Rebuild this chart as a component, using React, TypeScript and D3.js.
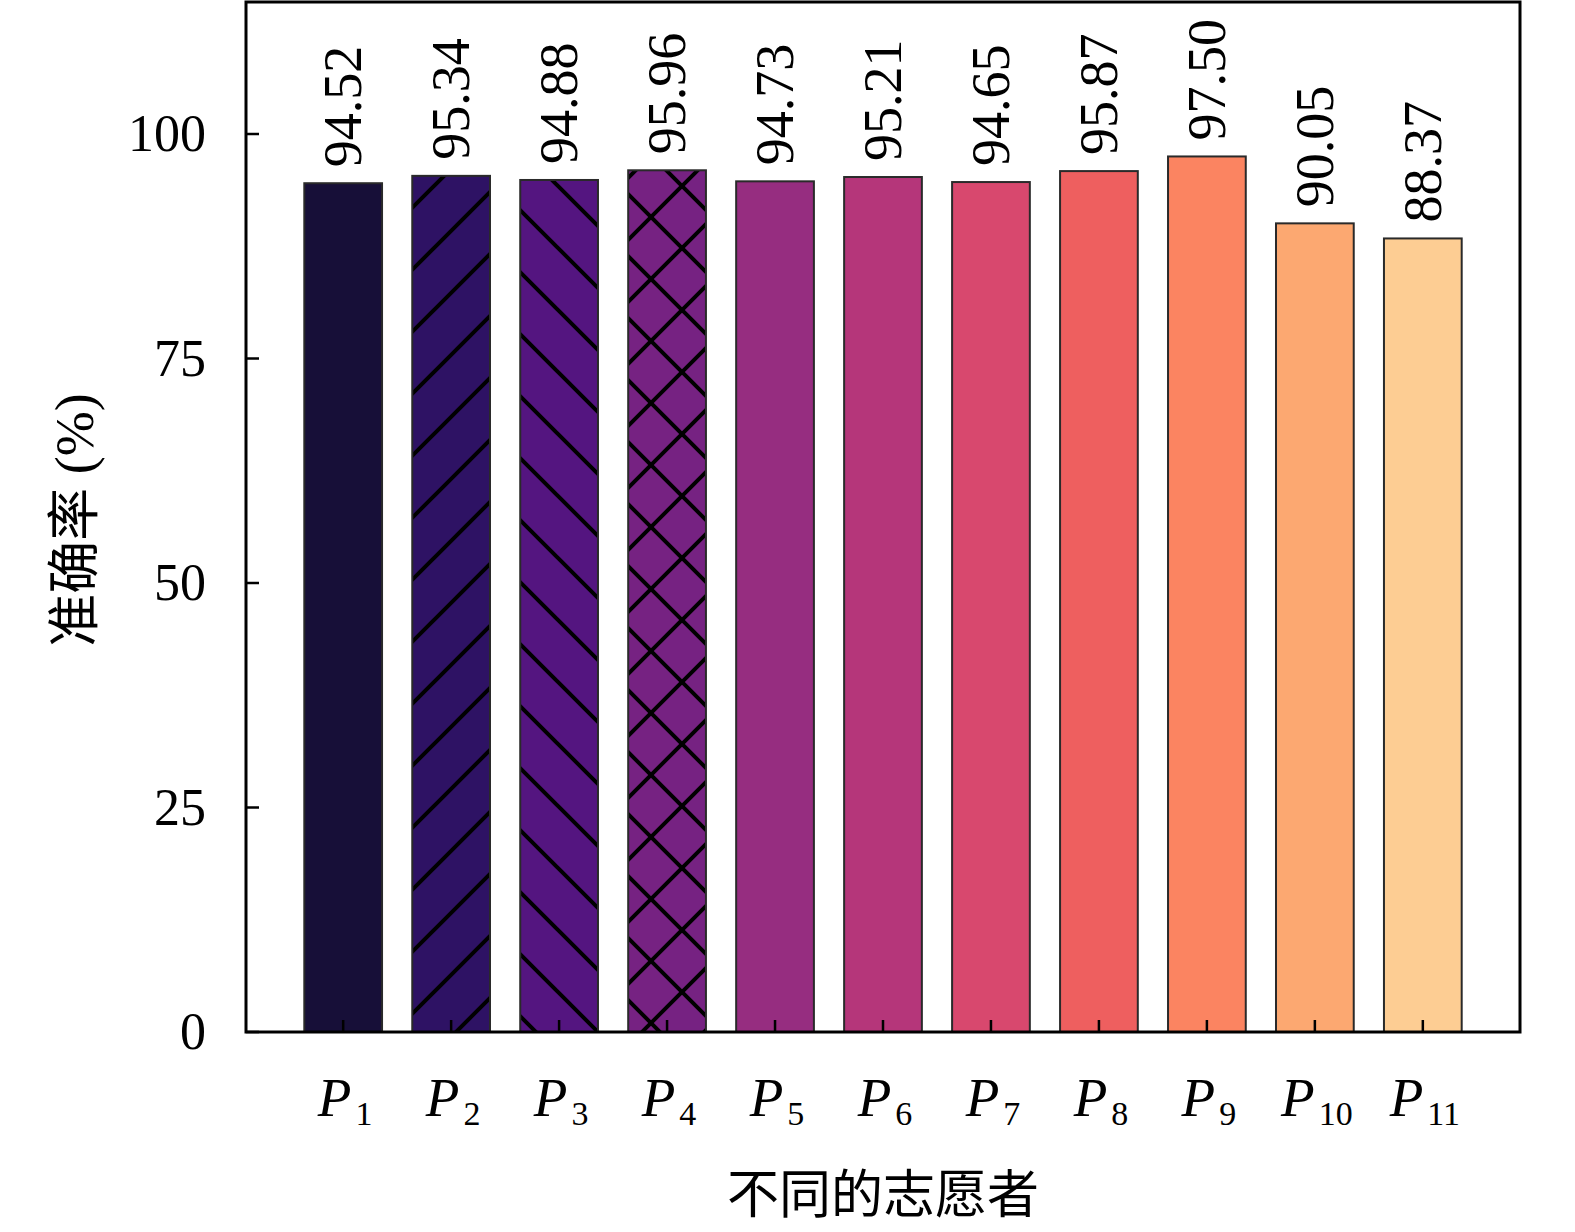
import { useEffect, useRef } from 'react';
import * as d3 from 'd3';

// data
const volunteers = ['1', '2', '3', '4', '5', '6', '7', '8', '9', '10', '11'];
const accuracy = [94.52, 95.34, 94.88, 95.96, 94.73, 95.21, 94.65, 95.87, 97.5, 90.05, 88.37];
const yTicks = [0, 25, 50, 75, 100];

// styles
const barColors = [
  '#170f38', '#2e1264', '#541580', '#762282', '#962d80', '#b5367a',
  '#d8486e', '#ee5f5f', '#fb8461', '#fca871', '#fdcd93',
];
const hatches: (string | null)[] = [null, 'fwd', 'back', 'cross', null, null, null, null, null, null, null];

const W = 1575;
const H = 1232;
const serif = '"Liberation Serif", "Times New Roman", serif';
const cjk = '"Noto Sans CJK SC", sans-serif';

export default function App() {
  const svgRef = useRef<SVGSVGElement>(null);

  useEffect(() => {
    if (!svgRef.current) return;
    const svg = d3.select(svgRef.current);
    svg.selectAll('*').remove();

    const left = 246, right = 1520, top = 2, bottom = 1032;

    const x = d3.scaleLinear().domain([-0.9, 10.9]).range([left, right]);
    const y = d3.scaleLinear().domain([0, 114.7]).range([bottom, top]);
    const barW = x(0.72) - x(0);

    // hatch patterns
    const defs = svg.append('defs');
    const tile = 62;
    const mkPattern = (id: string, paths: string[]) => {
      const p = defs.append('pattern')
        .attr('id', id)
        .attr('patternUnits', 'userSpaceOnUse')
        .attr('width', tile)
        .attr('height', tile);
      paths.forEach(d => {
        p.append('path')
          .attr('d', d)
          .attr('stroke', '#000')
          .attr('stroke-width', 4)
          .attr('fill', 'none');
      });
    };
    const t = tile;
    const fwd = `M${-t / 2},${t / 2}L${t / 2},${-t / 2}M0,${t}L${t},0M${t / 2},${t * 1.5}L${t * 1.5},${t / 2}`;
    const back = `M${-t / 2},${t / 2}L${t / 2},${t * 1.5}M0,0L${t},${t}M${t / 2},${-t / 2}L${t * 1.5},${t / 2}`;
    mkPattern('hatch-fwd', [fwd]);
    mkPattern('hatch-back', [back]);
    mkPattern('hatch-cross', [fwd, back]);

    // bars
    const g = svg.append('g');
    accuracy.forEach((v, i) => {
      const bx = x(i) - barW / 2;
      g.append('rect')
        .attr('x', bx)
        .attr('y', y(v))
        .attr('width', barW)
        .attr('height', y(0) - y(v))
        .attr('fill', barColors[i]);
      const h = hatches[i];
      if (h) {
        g.append('rect')
          .attr('x', bx)
          .attr('y', y(v))
          .attr('width', barW)
          .attr('height', y(0) - y(v))
          .attr('fill', `url(#hatch-${h})`);
      }
      g.append('rect')
        .attr('x', bx)
        .attr('y', y(v))
        .attr('width', barW)
        .attr('height', y(0) - y(v))
        .attr('fill', 'none')
        .attr('stroke', '#2a2a2a')
        .attr('stroke-width', 2);
    });

    // value labels, rotated
    accuracy.forEach((v, i) => {
      const lx = x(i);
      const ly = y(v) - 16;
      svg.append('text')
        .attr('x', lx)
        .attr('y', ly)
        .attr('transform', `rotate(-90,${lx},${ly})`)
        .attr('dominant-baseline', 'central')
        .attr('text-anchor', 'start')
        .style('font-family', serif)
        .style('font-size', '54px')
        .text(v.toFixed(2));
    });

    // ticks (inward)
    const axes = svg.append('g').attr('stroke', '#000').attr('stroke-width', 2.5);
    yTicks.forEach(tk => {
      axes.append('line')
        .attr('x1', left).attr('x2', left + 13)
        .attr('y1', y(tk)).attr('y2', y(tk));
      svg.append('text')
        .attr('x', 206)
        .attr('y', y(tk))
        .attr('dy', '0.33em')
        .attr('text-anchor', 'end')
        .style('font-family', serif)
        .style('font-size', '52px')
        .text(tk);
    });
    volunteers.forEach((_, i) => {
      axes.append('line')
        .attr('x1', x(i)).attr('x2', x(i))
        .attr('y1', bottom).attr('y2', bottom - 12);
    });

    // frame
    svg.append('rect')
      .attr('x', left)
      .attr('y', top)
      .attr('width', right - left)
      .attr('height', bottom - top)
      .attr('fill', 'none')
      .attr('stroke', '#000')
      .attr('stroke-width', 3);

    // x labels P_i
    volunteers.forEach((s, i) => {
      const tx = svg.append('text')
        .attr('x', x(i) + 2)
        .attr('y', 1116)
        .attr('text-anchor', 'middle')
        .style('font-family', serif);
      tx.append('tspan')
        .style('font-style', 'italic')
        .style('font-size', '55px')
        .text('P');
      tx.append('tspan')
        .attr('dx', 4)
        .attr('dy', 9)
        .style('font-size', '34px')
        .text(s);
    });

    // axis titles
    svg.append('text')
      .attr('x', (left + right) / 2)
      .attr('y', 1213)
      .attr('text-anchor', 'middle')
      .style('font-family', cjk)
      .style('font-size', '52px')
      .text('不同的志愿者');

    const yt = svg.append('text')
      .attr('transform', `translate(93,520) rotate(-90)`)
      .attr('text-anchor', 'middle');
    yt.append('tspan')
      .style('font-family', cjk)
      .style('font-size', '53px')
      .text('准确率');
    yt.append('tspan')
      .style('font-family', serif)
      .style('font-size', '54px')
      .text(' (%)');
  }, []);

  return (
    <svg
      ref={svgRef}
      width={W}
      height={H}
      style={{ position: 'absolute', left: 0, top: 0, background: '#fff' }}
    />
  );
}
